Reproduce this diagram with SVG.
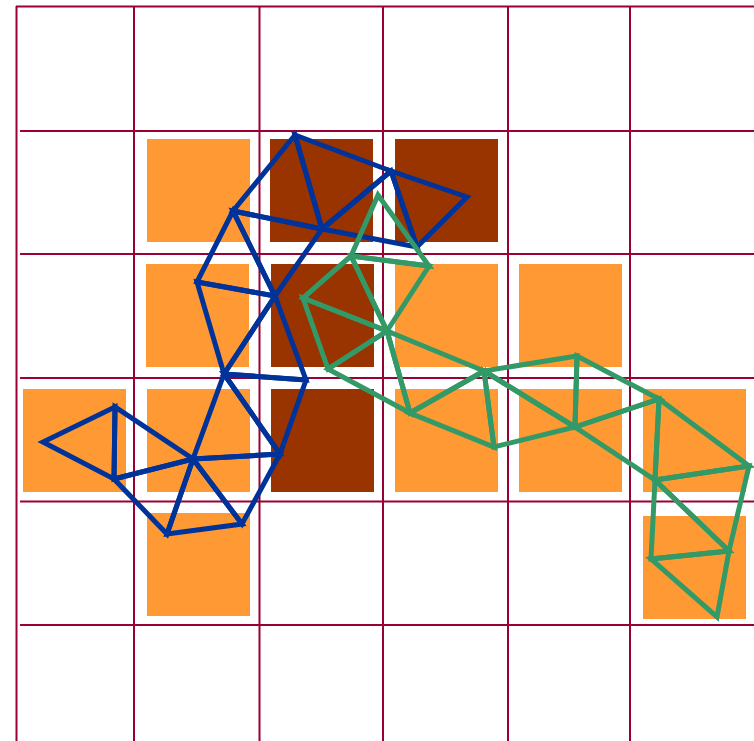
<svg xmlns="http://www.w3.org/2000/svg" width="754" height="741" viewBox="0 0 754 741">
<style>
.grid line{stroke:#990033;stroke-width:2}
.lt{fill:#FF9933}
.dk{fill:#993300}
.blue polygon{fill:none;stroke:#003399;stroke-width:5;stroke-linejoin:miter}
.green polygon{fill:none;stroke:#339966;stroke-width:5;stroke-linejoin:miter}
</style>
<rect width="754" height="741" fill="#fff"/>
<g id="grid" class="grid">
<line x1="16" y1="6.5" x2="754" y2="6.5"/>
<line x1="20" y1="131" x2="754" y2="131"/>
<line x1="20" y1="254" x2="754" y2="254"/>
<line x1="20" y1="378" x2="754" y2="378"/>
<line x1="20" y1="501.5" x2="754" y2="501.5"/>
<line x1="20" y1="625" x2="754" y2="625"/>
<line x1="16.5" y1="6" x2="16.5" y2="741"/>
<line x1="134" y1="6" x2="134" y2="741"/>
<line x1="259.5" y1="6" x2="259.5" y2="741"/>
<line x1="383" y1="6" x2="383" y2="741"/>
<line x1="508" y1="6" x2="508" y2="741"/>
<line x1="630" y1="6" x2="630" y2="741"/>
</g>
<g id="squares">
<rect class="lt" x="147" y="139" width="103" height="103"/>
<rect class="dk" x="270" y="139" width="103" height="103"/>
<rect class="dk" x="395" y="139" width="103" height="103"/>
<rect class="lt" x="146" y="264" width="103" height="103"/>
<rect class="dk" x="271" y="264" width="103" height="103"/>
<rect class="lt" x="395" y="264" width="103" height="103"/>
<rect class="lt" x="519" y="264" width="103" height="103"/>
<rect class="lt" x="23" y="389" width="103" height="103"/>
<rect class="lt" x="147" y="389" width="103" height="103"/>
<rect class="dk" x="271" y="389" width="103" height="103"/>
<rect class="lt" x="395" y="389" width="103" height="103"/>
<rect class="lt" x="519" y="389" width="103" height="103"/>
<rect class="lt" x="643" y="389" width="103" height="103"/>
<rect class="lt" x="147" y="513" width="103" height="103"/>
<rect class="lt" x="643" y="516" width="103" height="103"/>
</g>
<g id="blue" class="blue">
<polygon points="295,135 233,211 322,229"/>
<polygon points="295,135 322,229 391,171"/>
<polygon points="391,171 467,197 417,247"/>
<polygon points="322,229 391,171 417,247"/>
<polygon points="233,211 322,229 275,296"/>
<polygon points="233,211 197,282 275,296"/>
<polygon points="197,282 275,296 224,374"/>
<polygon points="275,296 224,374 306,380"/>
<polygon points="224,374 306,380 280,454"/>
<polygon points="224,374 280,454 193,459"/>
<polygon points="115,407 43,442 114,479"/>
<polygon points="115,407 114,479 193,459"/>
<polygon points="114,479 193,459 167,534"/>
<polygon points="193,459 167,534 242,524"/>
<polygon points="193,459 242,524 280,454"/>
</g>
<g id="green" class="green">
<polygon points="378,195 351,256 429,266"/>
<polygon points="351,256 429,266 387,331"/>
<polygon points="351,256 303,298 387,331"/>
<polygon points="303,298 387,331 328,369"/>
<polygon points="387,331 328,369 410,413"/>
<polygon points="387,331 410,413 484,371"/>
<polygon points="410,413 484,371 494,447"/>
<polygon points="484,371 494,447 575,427"/>
<polygon points="484,371 577,356 575,427"/>
<polygon points="577,356 575,427 659,399"/>
<polygon points="575,427 659,399 655,480"/>
<polygon points="659,399 749,466 655,480"/>
<polygon points="749,466 655,480 729,551"/>
<polygon points="655,480 729,551 651,559"/>
<polygon points="729,551 651,559 717,617"/>
</g>
</svg>
